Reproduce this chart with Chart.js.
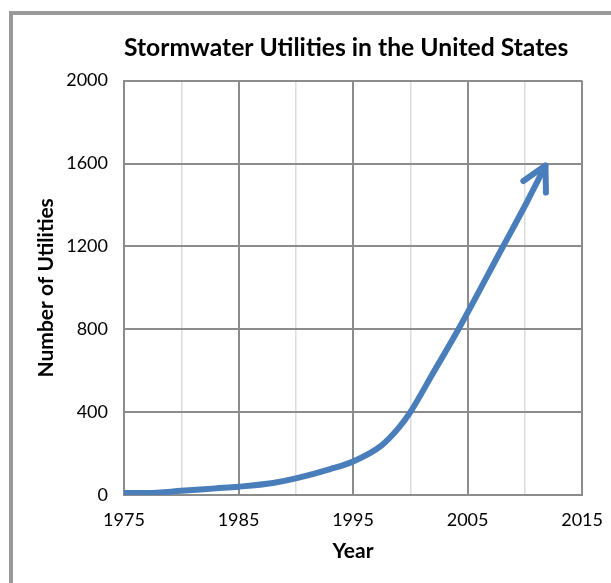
<!DOCTYPE html>
<html>
<head>
<meta charset="utf-8">
<script src="https://cdn.jsdelivr.net/npm/chart.js@4"></script>
<style>
  html, body { margin: 0; background: #fff; overflow: hidden; }
  #frame { position: absolute; left: 9px; top: 11px; width: 640px; height: 640px; border: 4px solid #999; box-sizing: border-box; }
  #wrap { position: absolute; left: 0; top: 0; width: 617px; height: 583px; }
</style>
</head>
<body>
<div id="frame"></div>
<div id="wrap"><canvas id="grafUtil"></canvas></div>
<script>
// dados
const anos = [1975, 1977, 1980, 1983, 1985, 1988, 1990, 1993, 1995, 1997.5, 1999, 2000, 2002, 2004.2, 2008, 2010, 2011.8];
const totalUtil = [10, 10, 20, 32, 40, 58, 80, 125, 162, 240, 325, 400, 590, 800, 1190, 1395, 1590];
const ticksX = [1975, 1985, 1995, 2005, 2015];
const ticksY = [0, 400, 800, 1200, 1600, 2000];

const fonte = 'Lato, "Open Sans", sans-serif';
const azul = '#4a7ebb';

let pontos = [];
for (let i = 0; i < anos.length; i++) {
  pontos.push({ x: anos[i], y: totalUtil[i] });
}

// ponta da seta no fim da linha
const seta = {
  id: 'seta',
  afterDatasetsDraw(chart) {
    const meta = chart.getDatasetMeta(0);
    const n = meta.data.length;
    const p1 = meta.data[n - 1], p0 = meta.data[n - 2];
    const ang = Math.atan2(p1.y - p0.y, p1.x - p0.x);
    const ctx = chart.ctx;
    ctx.save();
    ctx.strokeStyle = azul;
    ctx.lineWidth = 6;
    ctx.lineCap = 'round';
    ctx.lineJoin = 'round';
    ctx.beginPath();
    ctx.moveTo(p1.x - 27 * Math.cos(ang - 0.49), p1.y - 27 * Math.sin(ang - 0.49));
    ctx.lineTo(p1.x, p1.y);
    ctx.lineTo(p1.x - 27 * Math.cos(ang + 0.49), p1.y - 27 * Math.sin(ang + 0.49));
    ctx.stroke();
    ctx.restore();
  }
};

const graf = new Chart(document.getElementById('grafUtil'), {
  type: 'scatter',
  data: {
    datasets: [{
      data: pontos,
      showLine: true,
      borderColor: azul,
      borderWidth: 6,
      borderCapStyle: 'round',
      cubicInterpolationMode: 'monotone',
      pointRadius: 0
    }]
  },
  options: {
    responsive: true,
    maintainAspectRatio: false,
    animation: false,
    layout: { padding: { left: 0, right: 22, top: 0, bottom: 0 } },
    plugins: {
      legend: { display: false },
      tooltip: { enabled: false },
      title: {
        display: true,
        text: 'Stormwater Utilities in the United States',
        color: '#000',
        fullSize: false,
        align: 'start',
        font: { family: fonte, size: 24.7, weight: 'bold' },
        padding: { top: 33, bottom: 18 }
      }
    },
    scales: {
      x: {
        type: 'linear',
        min: 1975,
        max: 2015,
        afterFit: s => { s.height = 88; },
        afterBuildTicks: s => {
          let t = [];
          for (let a = 1975; a <= 2015; a += 5) t.push({ value: a });
          s.ticks = t;
        },
        ticks: {
          color: '#000',
          padding: 14,
          maxRotation: 0,
          autoSkip: false,
          font: { family: fonte, size: 18 },
          callback: v => ticksX.includes(v) ? String(v) : ''
        },
        grid: {
          drawTicks: false,
          color: c => ticksX.includes(c.tick.value) ? '#8c8c8c' : '#dcdcdc',
          lineWidth: c => ticksX.includes(c.tick.value) ? 2 : 1.5
        },
        border: { color: '#8c8c8c', width: 2 },
        title: {
          display: true,
          text: 'Year',
          color: '#000',
          font: { family: fonte, size: 21, weight: 'bold' },
          padding: { top: 0, bottom: 19 }
        }
      },
      y: {
        min: 0,
        max: 2000,
        afterFit: s => { s.width = 124; },
        afterBuildTicks: s => { s.ticks = ticksY.map(v => ({ value: v })); },
        ticks: {
          color: '#000',
          padding: 16,
          font: { family: fonte, size: 18 },
          callback: v => String(v)
        },
        grid: { drawTicks: false, color: '#8c8c8c', lineWidth: 2 },
        border: { color: '#8c8c8c', width: 2 },
        title: {
          display: true,
          text: 'Number of Utilities',
          color: '#000',
          font: { family: fonte, size: 21, weight: 'bold' },
          padding: { top: 34, bottom: 0 }
        }
      }
    }
  },
  plugins: [seta]
});
</script>
</body>
</html>
